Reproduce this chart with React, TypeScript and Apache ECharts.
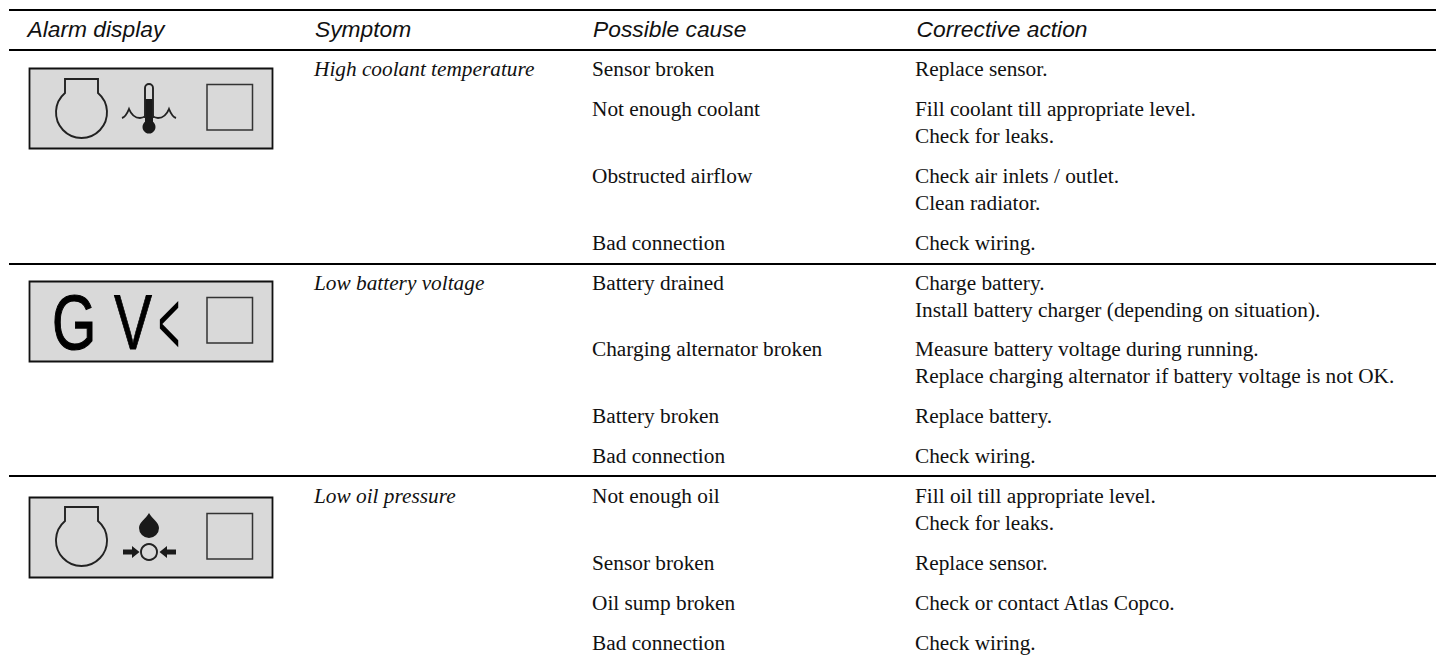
import React, { useEffect, useRef } from "react";
import * as echarts from "echarts";

const headers = ["Alarm display", "Symptom", "Possible cause", "Corrective action"];
const symptoms = ["High coolant temperature", "Low battery voltage", "Low oil pressure"];
const causes = [
  ["Sensor broken", "Not enough coolant", "Obstructed airflow", "Bad connection"],
  ["Battery drained", "Charging alternator broken", "Battery broken", "Bad connection"],
  ["Not enough oil", "Sensor broken", "Oil sump broken", "Bad connection"],
];
const actions = [
  [["Replace sensor."], ["Fill coolant till appropriate level.", "Check for leaks."], ["Check air inlets / outlet.", "Clean radiator."], ["Check wiring."]],
  [["Charge battery.", "Install battery charger (depending on situation)."], ["Measure battery voltage during running.", "Replace charging alternator if battery voltage is not OK."], ["Replace battery."], ["Check wiring."]],
  [["Fill oil till appropriate level.", "Check for leaks."], ["Replace sensor."], ["Check or contact Atlas Copco."], ["Check wiring."]],
];
const rowY = [
  [69, 109, 176, 243],
  [283, 349, 416, 456],
  [496, 563, 603, 643],
];
const lineStep = 27;
const lineY = [10, 50, 264, 476];
const panelY = [68, 281, 497];
const colX = [27, 314, 592, 915];
const headX = [27.5, 315, 593, 916.5];

const SERIF = "'Liberation Serif'";
const SANS = "'Liberation Sans'";
const INK = "#111111";
const PANEL = "#d9d9d9";

echarts.graphic.registerShape("engine", echarts.graphic.extendPath("M65 25 V11 H98 V25 A25.5 25.5 0 1 1 65 25 Z", {}));
echarts.graphic.registerShape("tube", echarts.graphic.extendPath("M145 50 V20 A4 4 0 0 1 153 20 V50", {}));
echarts.graphic.registerShape("waveL", echarts.graphic.extendPath("M122 50 C125 49 127 46 129 41 C131 46 134 50 140 50 C142 50 144 49 146 48", {}));
echarts.graphic.registerShape("waveR", echarts.graphic.extendPath("M176 50 C173 49 171 46 169 41 C167 46 164 50 158 50 C156 50 154 49 152 48", {}));
echarts.graphic.registerShape("drop", echarts.graphic.extendPath("M149 16 C146 22 139 25 139 31 A10 10 0 0 0 159 31 C159 25 152 22 149 16 Z", {}));
echarts.graphic.registerShape("arrowL", echarts.graphic.extendPath("M123 52.5 H132 V49 L139.5 55 L132 61 V57.5 H123 Z", {}));
echarts.graphic.registerShape("arrowR", echarts.graphic.extendPath("M176 52.5 H167 V49 L159.5 55 L167 61 V57.5 H176 Z", {}));

function txt(x: number, y: number, s: string, font: string, size: number, italic = false) {
  return { type: "text", x, y, silent: true, style: { text: s, fontFamily: font, fontSize: size, fontStyle: italic ? "italic" : "normal", fill: INK, verticalAlign: "middle", align: "left" } };
}
const seg = (x1: number, y1: number, x2: number, y2: number, w: number) => ({ type: "line", shape: { x1, y1, x2, y2 }, style: { stroke: "#000", lineWidth: w } });
const stroke = (w = 1.9) => ({ fill: "none", stroke: "#222", lineWidth: w });

function panelBase(y: number) {
  return [
    { type: "rect", shape: { x: 29.5, y: y + 0.5, width: 243, height: 80 }, style: { fill: PANEL, stroke: "#111", lineWidth: 1.8 } },
    { type: "rect", shape: { x: 207, y: y + 16.5, width: 45.5, height: 45.5 }, style: { fill: PANEL, stroke: "#333", lineWidth: 1.5 } },
  ];
}

function coolantIcon(y: number) {
  return [
    { type: "engine", x: 0, y, style: stroke() },
    { type: "rect", shape: { x: 145, y: y + 31, width: 8, height: 26 }, style: { fill: "#1a1a1a" } },
    { type: "circle", shape: { cx: 149, cy: y + 59, r: 6.5 }, style: { fill: "#1a1a1a" } },
    { type: "tube", x: 0, y, style: stroke() },
    { type: "waveL", x: 0, y, style: stroke() },
    { type: "waveR", x: 0, y, style: stroke() },
  ];
}

function oilIcon(y: number) {
  return [
    { type: "engine", x: 0, y: y - 1, style: stroke() },
    { type: "drop", x: 0, y, style: { fill: "#1a1a1a" } },
    { type: "circle", shape: { cx: 149, cy: y + 55, r: 8 }, style: { fill: PANEL, stroke: "#222", lineWidth: 1.9 } },
    { type: "arrowL", x: 0, y, style: { fill: "#1a1a1a" } },
    { type: "arrowR", x: 0, y, style: { fill: "#1a1a1a" } },
  ];
}

function voltIcon(y: number) {
  const glyph = (s: string, x: number, size: number, sx: number, dy: number, w: number) => ({
    type: "text", x, y: y + dy, scaleX: sx, silent: true,
    style: { text: s, fontFamily: SANS, fontSize: size, fill: "#000", stroke: "#000", lineWidth: w, verticalAlign: "middle", align: "left" },
  });
  return [glyph("G", 52, 77, 0.74, 41, 1.2), glyph("V", 114, 77, 0.74, 41, 0.8), glyph("<", 158, 90, 0.42, 42, 0)];
}

export default function App() {
  const ref = useRef<HTMLDivElement>(null);
  useEffect(() => {
    document.body.style.margin = "0";
    const chart = echarts.init(ref.current!, undefined, { renderer: "svg" });
    const els: any[] = [];
    lineY.forEach((y) => els.push(seg(9, y, 1436, y, 2)));
    headers.forEach((h, i) => els.push(txt(headX[i], 29, h, SANS, 22.8, true)));
    symptoms.forEach((s, i) => {
      els.push(txt(colX[1], rowY[i][0], s, SERIF, 21.3, true));
      causes[i].forEach((c, j) => {
        els.push(txt(colX[2], rowY[i][j], c, SERIF, 21.3));
        actions[i][j].forEach((a, k) => els.push(txt(colX[3], rowY[i][j] + k * lineStep, a, SERIF, 21.3)));
      });
    });
    panelY.forEach((y) => els.push(...panelBase(y)));
    els.push(...coolantIcon(panelY[0]), ...voltIcon(panelY[1]), ...oilIcon(panelY[2]));
    chart.setOption({ animation: false, graphic: { elements: els } });
    return () => chart.dispose();
  }, []);
  return <div ref={ref} style={{ width: 1436, height: 661 }} />;
}
